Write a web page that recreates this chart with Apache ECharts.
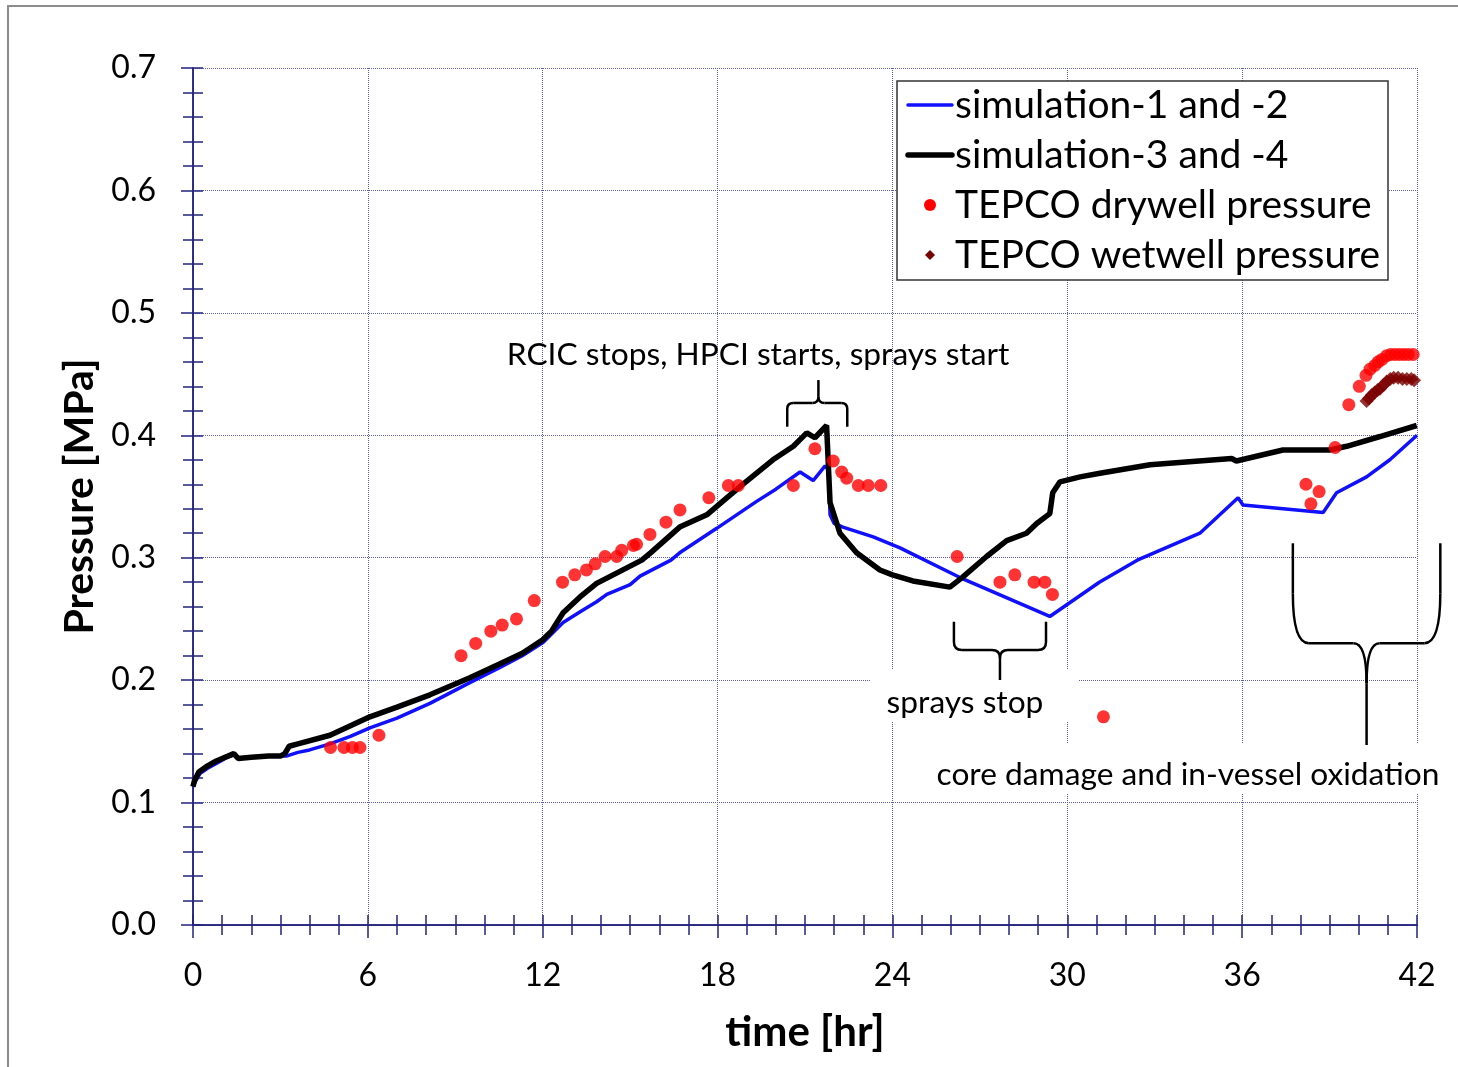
<!DOCTYPE html>
<html>
<head>
<meta charset="utf-8">
<script src="https://cdn.jsdelivr.net/npm/echarts@6/dist/echarts.min.js"></script>
<style>
html,body{margin:0;padding:0;background:#fff;}
#chart{width:1458px;height:1067px;}
</style>
</head>
<body>
<div id="chart"></div>
<script>
// ---- data (time [hr], pressure [MPa]) ----
const sim12 = [
[0.0,0.113],[0.1,0.118],[0.25,0.124],[0.5,0.128],[0.8,0.132],[1.1,0.136],[1.4,0.139],[1.6,0.136],
[2.0,0.137],[2.5,0.138],[3.0,0.138],[3.2,0.138],[3.6,0.141],[4.0,0.143],[4.7,0.148],[5.4,0.154],
[6.07,0.161],[7.0,0.169],[8.13,0.181],[9.5,0.198],[10.5,0.210],[11.3,0.220],[12.02,0.231],[12.7,0.247],
[13.3,0.256],[13.85,0.264],[14.2,0.270],[15.0,0.278],[15.34,0.285],[16.4,0.298],[16.7,0.304],[17.97,0.324],
[19.34,0.346],[20.0,0.356],[20.83,0.370],[21.28,0.363],[21.69,0.375],[21.8,0.372],[21.86,0.335],[22.0,0.328],
[22.3,0.325],[23.34,0.317],[24.26,0.308],[26.3,0.284],[29.4,0.252],[31.1,0.280],[32.4,0.298],[34.55,0.320],
[35.86,0.349],[36.03,0.343],[38.78,0.337],[39.24,0.353],[40.27,0.366],[41.07,0.380],[42.0,0.400]
];
const sim34 = [
[0.0,0.113],[0.05,0.118],[0.2,0.125],[0.5,0.130],[0.8,0.134],[1.1,0.137],[1.4,0.140],[1.55,0.136],
[2.0,0.137],[2.6,0.138],[3.0,0.138],[3.15,0.140],[3.3,0.146],[3.6,0.148],[4.7,0.155],[6.07,0.170],
[7.0,0.178],[8.13,0.188],[9.5,0.202],[10.5,0.213],[11.3,0.222],[12.0,0.233],[12.3,0.240],[12.7,0.255],
[13.28,0.268],[13.85,0.279],[14.5,0.287],[15.4,0.298],[15.7,0.304],[16.7,0.325],[17.63,0.335],[18.77,0.358],
[19.9,0.380],[20.6,0.391],[21.06,0.402],[21.34,0.398],[21.74,0.408],[21.86,0.345],[22.2,0.320],[22.77,0.304],
[23.57,0.290],[24.0,0.286],[24.7,0.281],[25.97,0.276],[26.4,0.284],[27.23,0.301],[27.92,0.314],[28.6,0.320],
[28.95,0.328],[29.4,0.336],[29.5,0.353],[29.75,0.362],[30.44,0.366],[31.12,0.369],[32.84,0.376],[35.64,0.381],
[35.8,0.379],[37.4,0.388],[39.0,0.388],[39.59,0.391],[40.73,0.399],[41.99,0.408]
];
const drywell = [
[4.72,0.145],[5.18,0.145],[5.47,0.145],[5.73,0.145],[6.38,0.155],
[9.2,0.220],[9.7,0.230],[10.22,0.240],[10.61,0.245],[11.1,0.250],[11.71,0.265],
[12.68,0.280],[13.1,0.286],[13.5,0.290],[13.8,0.295],[14.14,0.301],[14.54,0.301],[14.71,0.306],[15.11,0.310],
[15.22,0.311],[15.68,0.319],[16.23,0.329],[16.71,0.339],[17.7,0.349],[18.37,0.359],[18.71,0.359],[20.6,0.359],
[21.34,0.389],[21.97,0.379],[22.26,0.370],[22.43,0.365],[22.83,0.359],[23.17,0.359],[23.6,0.359],
[26.22,0.301],[27.69,0.280],[28.2,0.286],[28.86,0.280],[29.23,0.280],[29.49,0.270],[31.24,0.170],
[38.19,0.360],[38.36,0.344],[38.64,0.354],[39.19,0.390],[39.66,0.425],[40.02,0.440],[40.25,0.449],[40.39,0.454],
[40.55,0.457],[40.67,0.460],[40.8,0.462],[40.96,0.465],[41.1,0.466],[41.25,0.466],[41.4,0.466],[41.55,0.466],
[41.7,0.466],[41.87,0.466]
];
const wetwell = [
[40.27,0.428],[40.35,0.430],[40.45,0.433],[40.55,0.435],[40.65,0.437],[40.73,0.438],[40.85,0.441],[40.96,0.444],
[41.08,0.446],[41.2,0.447],[41.35,0.447],[41.5,0.446],[41.65,0.446],[41.8,0.446],[41.9,0.445]
];
const seriesNames = ['simulation-1 and -2','simulation-3 and -4','TEPCO drywell pressure','TEPCO wetwell pressure'];
const xTicks = {min:0, max:42, interval:6};
const yTicks = {min:0, max:0.7, interval:0.1};
// annotation anchors in data units
const notes = [
  {text:'RCIC stops, HPCI starts, sprays start', at:[19.39,0.4656], box:null},
  {text:'sprays stop', at:[26.49,0.1813], box:[[23.26,0.2083],[30.40,0.1658]]},
  {text:'core damage and in-vessel oxidation', at:[34.14,0.1225], box:[[25.2,0.1487],[43.5,0.1078]]}
];
const braces = [
  {x1:20.39, x2:22.45, xt:21.46, yb:0.407, ym:0.4264, yt:0.4451, ra:6, rav:6, rc:6, rcv:6},
  {x1:26.11, x2:29.27, xt:27.69, yb:0.2477, ym:0.2246, yt:0.2001, ra:8, rav:8, rc:8, rcv:8},
  {x1:37.74, x2:42.8, xt:40.27, yb:0.3118, ym:0.2301, yt:0.147, ra:16, rav:50, rc:13, rcv:40}
];

const FONT = 'Lato';
const AX = '#23237d';
const GRIDC = '#5b5bb8';
const COLORS = ['#1010ff','#000000','#ff0000','#7a0000'];
const chart = echarts.init(document.getElementById('chart'), null, {renderer:'canvas'});

function xAxisDef(inside, show){
  return {
    type:'value', min:xTicks.min, max:xTicks.max, interval:xTicks.interval, position:'bottom',
    axisLine:{show:true, onZero:false, lineStyle:{color:AX, width:1.5}},
    axisTick:{show:true, inside:inside, length:inside?10:13, lineStyle:{color:AX, width:1.5}},
    minorTick:{show:true, splitNumber:6, length:10, lineStyle:{color:AX, width:1.5}},
    axisLabel:{show:show, margin:35, fontFamily:FONT, fontSize:32, color:'#000'},
    splitLine:{show:show, lineStyle:{color:GRIDC, type:'dotted', width:1}},
    name: show ? 'time [hr]' : '', nameLocation:'middle', nameGap:86,
    nameTextStyle:{fontFamily:FONT, fontSize:42, fontWeight:'bold', color:'#000'}
  };
}
function yAxisDef(inside, show){
  return {
    type:'value', min:yTicks.min, max:yTicks.max, interval:yTicks.interval, position:'left',
    axisLine:{show:true, onZero:false, lineStyle:{color:AX, width:1.5}},
    axisTick:{show:true, inside:inside, length:inside?10:12, lineStyle:{color:AX, width:1.5}},
    minorTick:{show:true, splitNumber:5, length:10, lineStyle:{color:AX, width:1.5}},
    axisLabel:{show:show, margin:37, fontFamily:FONT, fontSize:32, color:'#000',
      formatter: v => v.toFixed(1)},
    splitLine:{show:show, lineStyle:{color:GRIDC, type:'dotted', width:1}},
    name: show ? 'Pressure [MPa]' : '', nameLocation:'middle', nameGap:92, nameRotate:90,
    nameTextStyle:{fontFamily:FONT, fontSize:41, fontWeight:'bold', color:'#000'}
  };
}

const option = {
  animation:false,
  backgroundColor:'#fff',
  grid:{left:193, right:41, top:68, bottom:142, containLabel:false},
  xAxis:[xAxisDef(false,true), xAxisDef(true,false)],
  yAxis:[yAxisDef(false,true), yAxisDef(true,false)],
  legend:{show:false, data:seriesNames},
  series:[
    {name:seriesNames[0], type:'line', data:sim12, symbol:'none', showSymbol:false,
     lineStyle:{color:COLORS[0], width:3.5}, itemStyle:{color:COLORS[0]}, z:2},
    {name:seriesNames[1], type:'line', data:sim34, symbol:'none', showSymbol:false,
     lineStyle:{color:COLORS[1], width:5.5}, itemStyle:{color:COLORS[1]}, z:3},
    {name:seriesNames[2], type:'scatter', data:drywell, symbol:'circle', symbolSize:13,
     itemStyle:{color:COLORS[2]}, z:4},
    {name:seriesNames[3], type:'scatter', data:wetwell, symbol:'diamond', symbolSize:14,
     itemStyle:{color:COLORS[3]}, z:4}
  ]
};
chart.setOption(option);

function px(p){ return chart.convertToPixel({xAxisIndex:0, yAxisIndex:0}, p); }
const LS = {stroke:'#000', lineWidth:2.5, fill:null};
function seg(a,b){ return {type:'line', shape:{x1:a[0],y1:a[1],x2:b[0],y2:b[1]}, style:LS, z:60, silent:true}; }
function quad(a,c,b){ return {type:'bezierCurve', shape:{x1:a[0],y1:a[1],cpx1:c[0],cpy1:c[1],x2:b[0],y2:b[1]}, style:LS, z:60, silent:true}; }
function braceEls(b){
  const [x1,yb] = px([b.x1,b.yb]);
  const [x2] = px([b.x2,b.yb]);
  const [xt,ym] = px([b.xt,b.ym]);
  const [,yt] = px([b.xt,b.yt]);
  const s = Math.sign(yt-ym);
  const ra=b.ra, rav=b.rav, rc=b.rc, rcv=b.rcv;
  return [
    seg([x1,yb],[x1,ym-s*rav]),
    quad([x1,ym-s*rav],[x1,ym],[x1+ra,ym]),
    seg([x1+ra,ym],[xt-rc,ym]),
    quad([xt-rc,ym],[xt,ym],[xt,ym+s*rcv]),
    seg([xt,ym+s*rcv],[xt,yt]),
    quad([xt+rc,ym],[xt,ym],[xt,ym+s*rcv]),
    seg([xt+rc,ym],[x2-ra,ym]),
    quad([x2-ra,ym],[x2,ym],[x2,ym-s*rav]),
    seg([x2,ym-s*rav],[x2,yb])
  ];
}
const g = [];
// figure frame
g.push({type:'rect', shape:{x:8,y:6,width:1470,height:1080}, style:{fill:null, stroke:'#8c8c8c', lineWidth:2}, z:0, silent:true});
notes.forEach(n=>{
  if(n.box){
    const a = px(n.box[0]), b = px(n.box[1]);
    g.push({type:'rect', shape:{x:a[0], y:a[1], width:b[0]-a[0], height:b[1]-a[1]}, style:{fill:'#fff'}, z:50, silent:true});
  }
});
braces.forEach(b=>{ braceEls(b).forEach(e=>g.push(e)); });
notes.forEach(n=>{
  const c = px(n.at);
  g.push({type:'text', x:c[0], y:c[1], style:{text:n.text, fontFamily:FONT, fontSize:31.7, fill:'#000', align:'center', verticalAlign:'middle'}, z:60, silent:true});
});
// legend (drawn from the series names and colours)
const LX = 897, LY = 81, LW = 491, LH = 199, ROW = 50;
g.push({type:'rect', shape:{x:LX,y:LY,width:LW,height:LH}, style:{fill:'#fff', stroke:'#333', lineWidth:1.5}, z:70, silent:true});
seriesNames.forEach((nm,i)=>{
  const cy = LY + 24 + i*ROW;
  if(i===0) g.push({type:'line', shape:{x1:LX+11,y1:cy,x2:LX+55,y2:cy}, style:{stroke:COLORS[0], lineWidth:3.5, lineCap:'round'}, z:71, silent:true});
  if(i===1) g.push({type:'line', shape:{x1:LX+11,y1:cy,x2:LX+55,y2:cy}, style:{stroke:COLORS[1], lineWidth:5.5, lineCap:'round'}, z:71, silent:true});
  if(i===2) g.push({type:'circle', shape:{cx:LX+33,cy:cy,r:6}, style:{fill:COLORS[2]}, z:71, silent:true});
  if(i===3) g.push({type:'polygon', shape:{points:[[LX+33,cy-5],[LX+38,cy],[LX+33,cy+5],[LX+28,cy]]}, style:{fill:COLORS[3]}, z:71, silent:true});
  g.push({type:'text', x:LX+58, y:cy, style:{text:nm, fontFamily:FONT, fontSize:39, fill:'#000', align:'left', verticalAlign:'middle'}, z:71, silent:true});
});
chart.setOption({graphic:g});
</script>
</body>
</html>
